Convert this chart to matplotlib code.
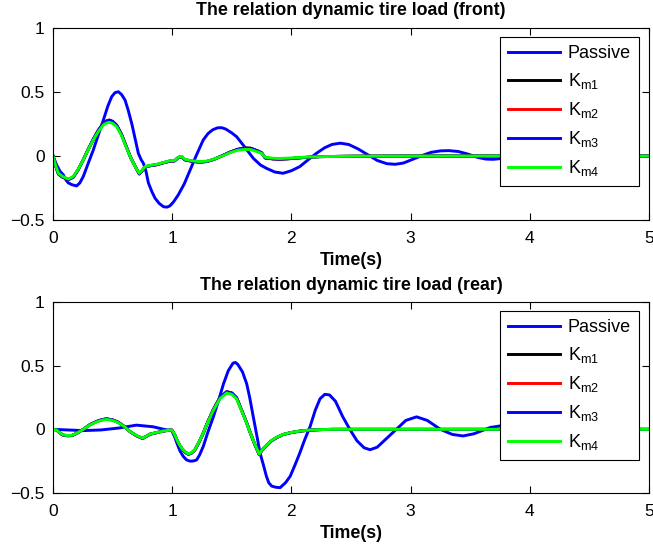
import matplotlib
matplotlib.use("Agg")
import matplotlib.pyplot as plt

# ---- data ----
# front tire, passive suspension
t_front_passive = [0, 0.03, 0.059, 0.087, 0.11, 0.128, 0.16, 0.198, 0.225, 0.254,
                   0.29, 0.338, 0.38, 0.422, 0.46, 0.492, 0.52, 0.548, 0.575, 0.604,
                   0.63, 0.66, 0.69, 0.716, 0.74, 0.758, 0.78, 0.80, 0.83, 0.856,
                   0.89, 0.926, 0.955, 0.98, 1.01, 1.05, 1.10, 1.15, 1.20, 1.26,
                   1.30, 1.34, 1.38, 1.415, 1.45, 1.50, 1.54, 1.60, 1.68, 1.74,
                   1.79, 1.86, 1.93, 2.00, 2.07, 2.14, 2.21, 2.28, 2.34, 2.41,
                   2.48, 2.56, 2.64, 2.72, 2.80, 2.87, 2.94, 3.02, 3.10, 3.17,
                   3.25, 3.32, 3.40, 3.48, 3.56, 3.63, 3.69, 3.76, 3.84, 3.92,
                   4.00, 4.10, 4.2, 4.3, 4.45, 4.6, 4.8, 5.0]
front_passive = [0, -0.07, -0.12, -0.148, -0.19, -0.21, -0.225, -0.234, -0.21, -0.16,
                 -0.07, 0.047, 0.165, 0.28, 0.39, 0.463, 0.495, 0.502, 0.48, 0.4375,
                 0.36, 0.255, 0.13, 0.02, -0.03, -0.057, -0.12, -0.21, -0.28, -0.33,
                 -0.37, -0.396, -0.40, -0.39, -0.36, -0.305, -0.22, -0.11, 0.0, 0.125,
                 0.175, 0.205, 0.22, 0.221, 0.21, 0.18, 0.151, 0.08, -0.018, -0.07,
                 -0.096, -0.125, -0.135, -0.115, -0.083, -0.03, 0.021, 0.065, 0.09, 0.10,
                 0.09, 0.055, 0.01, -0.035, -0.06, -0.065, -0.055, -0.025, 0.005, 0.028,
                 0.04, 0.042, 0.035, 0.015, -0.01, -0.024, -0.026, -0.02, -0.005, 0.008,
                 0.015, 0.012, 0.003, -0.006, -0.008, -0.002, 0.0, 0.0]

# front tire, controlled cases (K_m1..K_m3 nearly coincide, K_m4 on top)
t_front_km = [0, 0.02, 0.045, 0.08, 0.128, 0.17, 0.21, 0.254, 0.295, 0.338,
              0.38, 0.422, 0.45, 0.472, 0.50, 0.534, 0.575, 0.618, 0.65, 0.674,
              0.70, 0.724, 0.745, 0.772, 0.82, 0.87, 0.93, 0.98, 1.02, 1.05,
              1.075, 1.107, 1.17, 1.233, 1.29, 1.345, 1.42, 1.485, 1.55, 1.61,
              1.66, 1.71, 1.75, 1.78, 1.84, 1.90, 2.0, 2.10, 2.24, 2.5,
              3.0, 4.0, 5.0]
front_km1 = [0, -0.072, -0.14, -0.165, -0.185, -0.165, -0.108, -0.03, 0.052, 0.13,
             0.2, 0.255, 0.274, 0.28, 0.27, 0.24, 0.168, 0.065, -0.01, -0.055,
             -0.1, -0.14, -0.118, -0.085, -0.075, -0.068, -0.052, -0.04, -0.038, -0.012,
             -0.005, -0.03, -0.042, -0.048, -0.043, -0.028, 0.002, 0.03, 0.052, 0.062,
             0.06, 0.042, 0.025, -0.015, -0.022, -0.025, -0.02, -0.012, -0.005, -0.002,
             0, 0, 0]
front_km4 = [0, -0.07, -0.135, -0.16, -0.18, -0.16, -0.105, -0.03, 0.05, 0.125,
             0.19, 0.242, 0.258, 0.263, 0.255, 0.229, 0.16, 0.06, -0.01, -0.057,
             -0.1, -0.135, -0.115, -0.083, -0.072, -0.065, -0.05, -0.037, -0.035, -0.01,
             -0.003, -0.026, -0.038, -0.044, -0.04, -0.026, 0.0, 0.026, 0.045, 0.052,
             0.05, 0.034, 0.02, -0.01, -0.017, -0.02, -0.015, -0.01, -0.005, -0.002,
             0, 0, 0]

# rear tire, passive suspension
t_rear_passive = [0, 0.1, 0.254, 0.4, 0.55, 0.70, 0.84, 0.93, 0.996, 1.02,
                  1.04, 1.065, 1.093, 1.12, 1.15, 1.18, 1.205, 1.23, 1.26, 1.30,
                  1.345, 1.39, 1.43, 1.47, 1.51, 1.53, 1.55, 1.59, 1.625, 1.65,
                  1.68, 1.71, 1.737, 1.765, 1.79, 1.81, 1.835, 1.87, 1.905, 1.95,
                  1.99, 2.03, 2.07, 2.11, 2.156, 2.20, 2.24, 2.28, 2.32, 2.37,
                  2.43, 2.49, 2.55, 2.61, 2.66, 2.72, 2.80, 2.88, 2.96, 3.05,
                  3.14, 3.25, 3.35, 3.44, 3.53, 3.60, 3.67, 3.76, 3.85, 3.95,
                  4.05, 4.2, 4.35, 4.5, 4.7, 5.0]
rear_passive = [0, -0.004, -0.01, -0.005, 0.01, 0.033, 0.02, 0.0, -0.01, -0.057,
                -0.11, -0.17, -0.213, -0.24, -0.25, -0.248, -0.24, -0.2, -0.135, -0.02,
                0.098, 0.23, 0.357, 0.46, 0.52, 0.525, 0.51, 0.45, 0.357, 0.25,
                0.098, -0.05, -0.187, -0.28, -0.368, -0.42, -0.446, -0.455, -0.458, -0.42,
                -0.368, -0.28, -0.187, -0.085, 0.02, 0.15, 0.24, 0.275, 0.27, 0.22,
                0.1, 0.0, -0.09, -0.145, -0.16, -0.14, -0.07, 0.0, 0.07, 0.098,
                0.07, 0.0, -0.04, -0.052, -0.035, -0.01, 0.015, 0.028, 0.025, 0.01,
                -0.005, -0.012, -0.005, 0.003, 0.0, 0.0]

# rear tire, controlled cases
t_rear_km = [0, 0.03, 0.06, 0.087, 0.12, 0.157, 0.2, 0.254, 0.31, 0.366,
             0.41, 0.45, 0.50, 0.548, 0.6, 0.646, 0.70, 0.752, 0.78, 0.814,
             0.87, 0.925, 0.996, 1.02, 1.04, 1.06, 1.08, 1.11, 1.135, 1.16,
             1.19, 1.225, 1.26, 1.30, 1.345, 1.40, 1.457, 1.50, 1.54, 1.58,
             1.625, 1.66, 1.695, 1.73, 1.755, 1.78, 1.83, 1.877, 1.93, 1.99,
             2.07, 2.156, 2.25, 2.35, 2.6, 3.0, 4.0, 5.0]
rear_km1 = [0, -0.005, -0.031, -0.046, -0.05, -0.049, -0.031, 0.0, 0.037, 0.062,
            0.076, 0.082, 0.074, 0.055, 0.021, -0.018, -0.05, -0.072, -0.056, -0.038,
            -0.026, -0.013, -0.005, -0.041, -0.085, -0.122, -0.15, -0.181, -0.195, -0.188,
            -0.162, -0.101, -0.031, 0.062, 0.155, 0.248, 0.295, 0.285, 0.248, 0.155,
            0.05, -0.04, -0.124, -0.197, -0.162, -0.137, -0.092, -0.064, -0.041, -0.027,
            -0.014, -0.006, -0.002, 0, 0, 0, 0, 0]
rear_km4 = [0, -0.005, -0.03, -0.044, -0.048, -0.047, -0.03, 0.0, 0.035, 0.059,
            0.072, 0.078, 0.07, 0.052, 0.02, -0.018, -0.048, -0.07, -0.055, -0.037,
            -0.025, -0.013, -0.005, -0.04, -0.083, -0.12, -0.148, -0.178, -0.192, -0.185,
            -0.16, -0.1, -0.031, 0.06, 0.15, 0.24, 0.285, 0.275, 0.24, 0.15,
            0.047, -0.04, -0.122, -0.194, -0.16, -0.135, -0.09, -0.062, -0.04, -0.026,
            -0.013, -0.005, -0.002, 0, 0, 0, 0, 0]

legend_labels = ["Passive", r"K$_{\mathrm{m1}}$", r"K$_{\mathrm{m2}}$",
                 r"K$_{\mathrm{m3}}$", r"K$_{\mathrm{m4}}$"]
line_colors = ["#0000ff", "#000000", "#ff0000", "#0000ff", "#00ff00"]

plt.rcParams["font.family"] = ["Liberation Sans", "DejaVu Sans"]
plt.rcParams["mathtext.fontset"] = "custom"
plt.rcParams["mathtext.rm"] = "Liberation Sans"
plt.rcParams["mathtext.default"] = "regular"

fig = plt.figure(figsize=(6.53, 5.49), dpi=100)
ax_top = fig.add_axes([0.0812, 0.5993, 0.9127, 0.3497])
ax_bot = fig.add_axes([0.0812, 0.1020, 0.9127, 0.3479])


def draw_panel(ax, t_p, passive, t_k, km1, km4, title):
    series = [(t_p, passive), (t_k, km1), (t_k, km1), (t_k, km1), (t_k, km4)]
    for (t, y), color, label in zip(series, line_colors, legend_labels):
        ax.plot(t, y, color=color, linewidth=2.1, label=label)
    ax.set_xlim(0, 5)
    ax.set_ylim(-0.5, 1)
    ax.set_xticks([0, 1, 2, 3, 4, 5])
    ax.set_yticks([-0.5, 0, 0.5, 1])
    ax.set_yticklabels(["\u22120.5", "0", "0.5", "1"])
    ax.tick_params(direction="in", top=True, right=True, length=5,
                   width=0.8, labelsize=12.5)
    ax.tick_params(axis="x", pad=8)
    ax.tick_params(axis="y", pad=6)
    for sp in ax.spines.values():
        sp.set_linewidth(0.8)
    ax.set_title(title, fontsize=12.8, fontweight="bold", pad=9)
    ax.set_xlabel("Time(s)", fontsize=12.8, fontweight="bold", labelpad=4)
    leg = ax.legend(loc="upper right", bbox_to_anchor=(0.983, 0.953),
                    borderaxespad=0, fontsize=13, handlelength=2.9,
                    labelspacing=0.5, handletextpad=0.4, borderpad=0.45,
                    fancybox=False, framealpha=1, edgecolor="black")
    leg.get_frame().set_linewidth(0.8)


draw_panel(ax_top, t_front_passive, front_passive, t_front_km, front_km1, front_km4,
           "The relation dynamic tire load (front)")
draw_panel(ax_bot, t_rear_passive, rear_passive, t_rear_km, rear_km1, rear_km4,
           "The relation dynamic tire load (rear)")

fig.savefig("out.png", dpi=100)
